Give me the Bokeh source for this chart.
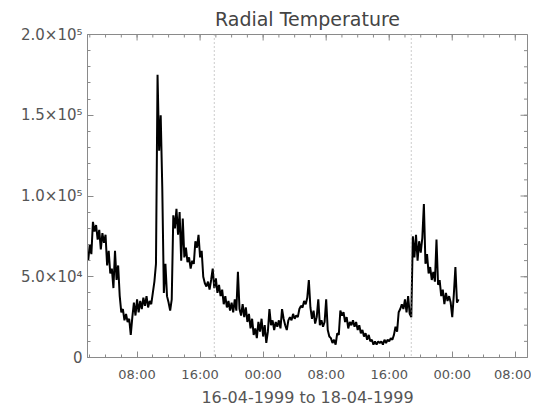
import math
from bokeh.plotting import figure
from bokeh.models import Range1d, FixedTicker, LinearAxis, Span
from bokeh.embed import file_html
from bokeh.resources import INLINE

# ---- data (hours since 16-04-1999 00:00, temperature in K) ----
t_start = 1.8
t_step = 0.2
temp_k = [
    60, 70, 64, 84, 78, 82, 73, 79, 67, 77,
    71, 76, 57, 66, 52, 55, 43, 66, 48, 57,
    38, 28, 30, 23, 27, 22, 24, 14, 25, 34,
    26, 36, 28, 35, 30, 37, 32, 38, 31, 35,
    33, 40, 47, 58, 175, 128, 150, 105, 40, 58,
    38, 34, 29, 36, 88, 80, 92, 76, 90, 60,
    86, 62, 68, 59, 62, 55, 60, 58, 72, 68,
    76, 62, 66, 50, 46, 44, 47, 42, 48, 55,
    43, 49, 40, 45, 38, 42, 33, 38, 31, 35,
    29, 34, 28, 36, 29, 53, 30, 26, 33, 25,
    31, 22, 27, 18, 24, 14, 18, 12, 22, 16,
    24, 13, 20, 9, 16, 30, 20, 23, 17, 22,
    19, 23, 18, 30, 24, 20, 17, 23, 25, 23,
    27, 24, 26, 25, 30, 32, 31, 35, 33, 37,
    48, 31, 24, 29, 21, 25, 36, 20, 23, 19,
    22, 36, 17, 13, 12, 9, 11, 8, 15, 14,
    29, 26, 28, 22, 25, 18, 22, 20, 23, 19,
    22, 17, 20, 15, 17, 13, 15, 11, 14, 10,
    11, 8, 10, 8, 10, 9, 10, 8, 11, 9,
    11, 10, 12, 11, 14, 19, 16, 28, 30, 33,
    30, 36, 28, 38, 27, 25, 75, 62, 76, 60,
    72, 65, 74, 95, 58, 64, 52, 56, 48, 53,
    47, 73, 45, 48, 38, 42, 33, 40, 35, 38,
    34, 25, 39, 56, 34, 36,
]
hours = [t_start + t_step * i for i in range(len(temp_k))]
temps = [v * 1000.0 for v in temp_k]

x_tick_hours = [8, 16, 24, 32, 40, 48, 56]
x_minor_hours = list(range(2, 58, 2))
x_tick_labels = ["08:00", "16:00", "00:00", "08:00", "16:00", "00:00", "08:00"]
y_ticks = [0, 50000, 100000, 150000, 200000]
y_minor = list(range(0, 200001, 10000))
y_tick_labels = ["0", "5.0\u00d710\u2074", "1.0\u00d710\u2075", "1.5\u00d710\u2075", "2.0\u00d710\u2075"]
marker_hours = [17.8, 42.8]

x_min, x_max = 1.71, 57.55
y_min, y_max = 0, 200000

TEXT = "#555555"
AXIS = "#8a8a8a"
FONT = "DejaVu Sans"

p = figure(frame_width=440, frame_height=323, output_backend="svg", toolbar_location=None,
           x_range=Range1d(x_min, x_max), y_range=Range1d(y_min, y_max),
           min_border_left=87, min_border_right=4, min_border_top=27, min_border_bottom=46,
           x_axis_location=None, y_axis_location=None)
p.grid.visible = False
p.outline_line_color = AXIS
p.background_fill_color = "white"
p.border_fill_color = "white"

p.title.text = "Radial Temperature"
p.title.align = "center"
p.title.text_font = FONT
p.title.text_font_style = "normal"
p.title.text_font_size = "19px"
p.title.text_color = "#444444"
p.title.offset = 0
p.title.standoff = 10

xticker = FixedTicker(ticks=x_tick_hours, minor_ticks=x_minor_hours)
yticker = FixedTicker(ticks=y_ticks, minor_ticks=y_minor)


def style_axis(ax):
    ax.axis_line_color = AXIS
    ax.major_tick_line_color = AXIS
    ax.minor_tick_line_color = AXIS
    ax.major_tick_out = 0
    ax.minor_tick_out = 0
    ax.major_tick_in = 6
    ax.minor_tick_in = 3
    ax.major_label_text_font = FONT
    ax.major_label_text_color = TEXT


xb = LinearAxis(ticker=xticker)
style_axis(xb)
xb.major_label_overrides = dict(zip(x_tick_hours, x_tick_labels))
xb.major_label_text_font_size = "13px"
xb.major_label_standoff = 9
xb.axis_label = "16-04-1999 to 18-04-1999"
xb.axis_label_text_font = FONT
xb.axis_label_text_font_style = "normal"
xb.axis_label_text_font_size = "16px"
xb.axis_label_text_color = TEXT
xb.axis_label_standoff = 3
p.add_layout(xb, "below")

yl = LinearAxis(ticker=yticker)
style_axis(yl)
yl.major_label_overrides = dict(zip(y_ticks, y_tick_labels))
yl.major_label_text_font_size = "15px"
yl.major_label_standoff = 5
p.add_layout(yl, "left")

# mirrored inward ticks on the top and right edges of the box
p.scatter([x_max] * len(y_ticks), y_ticks, marker="dash", size=14, line_color=AXIS, line_width=1)
p.scatter([x_max] * len(y_minor), y_minor, marker="dash", size=7, line_color=AXIS, line_width=1)
p.scatter(x_tick_hours, [y_max] * len(x_tick_hours), marker="dash", angle=math.pi / 2,
          size=12, line_color=AXIS, line_width=1)
p.scatter(x_minor_hours, [y_max] * len(x_minor_hours), marker="dash", angle=math.pi / 2,
          size=6, line_color=AXIS, line_width=1)

for h in marker_hours:
    p.add_layout(Span(location=h, dimension="height", line_color="#999999",
                      line_dash="1 3", line_width=1))

p.line(hours, temps, line_color="black", line_width=2)

open("out.html", "w").write(file_html(p, INLINE))
